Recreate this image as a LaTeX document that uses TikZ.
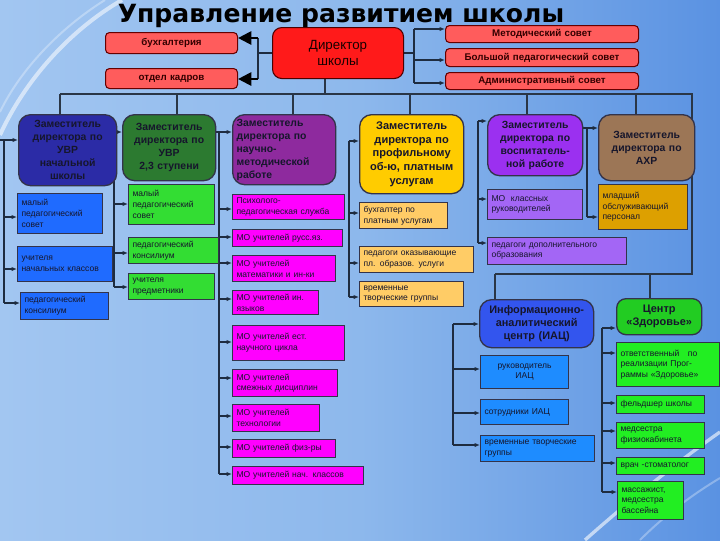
\documentclass[tikz,border=0pt]{standalone}
\usepackage{fontspec}
\setmainfont{Liberation Sans}
\newfontfamily\titlefont{DejaVu Sans}
\usetikzlibrary{arrows.meta}
\pgfdeclarelayer{bg}
\pgfsetlayers{bg,main}
\definecolor{bgL}{HTML}{A2C6F1}
\definecolor{bgR}{HTML}{5A92E2}
\definecolor{bgM}{HTML}{8DB8EC}
\definecolor{lnc}{HTML}{1E2C40}
\definecolor{busc}{HTML}{2A3646}
\definecolor{bord}{HTML}{33334A}
\definecolor{txt}{HTML}{16162C}
\definecolor{cdir}{HTML}{FF1A1A}
\definecolor{cred}{HTML}{FF5C5C}
\definecolor{cdA}{HTML}{2B2BA6}
\definecolor{cdB}{HTML}{2C7A30}
\definecolor{cdC}{HTML}{8E2A9E}
\definecolor{cdD}{HTML}{FFCC00}
\definecolor{cdE}{HTML}{9B30F0}
\definecolor{cdF}{HTML}{9C7656}
\definecolor{ciA}{HTML}{1F6BFF}
\definecolor{ciB}{HTML}{33DD33}
\definecolor{ciC}{HTML}{FF00FF}
\definecolor{ciD}{HTML}{FFCC66}
\definecolor{ciE}{HTML}{A366F5}
\definecolor{ciF}{HTML}{DDA000}
\definecolor{ciac}{HTML}{3355EE}
\definecolor{ciI}{HTML}{1E8CFF}
\definecolor{ccz}{HTML}{22CC22}
\definecolor{ciZ}{HTML}{22EE22}
\newcommand\bx[7]{\node[#1, anchor=north west, text width={(#5-#3)*0.75pt-6pt}, minimum height={(#6-#4)*0.75pt}] (#2) at (#3,#4) {#7};}
\newcommand\br[3]{\draw[arr] (#1 |- 0,#2) -- (#3.west |- 0,#2);}
\newcommand\drop[2]{\draw[bus] (#1,94) -- (#2.north -| #1,0);}
\begin{document}
\begin{tikzpicture}[x=0.75pt,y=-0.75pt,
  conn/.style={draw=lnc, line width=0.9pt},
  arr/.style={conn, -{Latex[length=4pt,width=3.2pt]}},
  thickconn/.style={draw=lnc, line width=1.6pt},
  bigarr/.style={thickconn, -{Triangle[length=10pt,width=10pt]}},
  bus/.style={draw=busc, line width=2.2pt},
  anybox/.style={draw=bord, line width=0.8pt, inner xsep=3pt, inner ysep=1pt, text=txt},
  dirst/.style={anybox, fill=cdir, draw=black!70!red, rounded corners=7pt, align=center, font=\fontsize{10}{12}\selectfont, text=black!90!red},
  redst/.style={anybox, fill=cred, draw=black!60!red, rounded corners=3pt, align=center, font=\bfseries\fontsize{7.3}{9}\selectfont, text=black!80!red},
  deputy/.style={anybox, line width=1pt, rounded corners=9pt, align=center, font=\bfseries\fontsize{7.8}{9.8}\selectfont},
  item/.style={anybox, align=left, font=\fontsize{6.4}{8}\selectfont}
]
\useasboundingbox (0,0) rectangle (720,540);
\begin{pgfonlayer}{bg}
\shade[left color=bgL, right color=bgR, middle color=bgM] (0,0) rectangle (720,540);
\draw[white, opacity=0.55, line width=3pt] (122,0) .. controls (70,30) and (25,80) .. (0,135);
\draw[white, opacity=0.3, line width=1.5pt] (105,0) .. controls (60,28) and (20,70) .. (0,112);
\draw[white, opacity=0.6, line width=2.5pt] (585,540) .. controls (630,500) and (680,460) .. (720,432);
\draw[white, opacity=0.3, line width=1.5pt] (640,540) .. controls (670,510) and (700,490) .. (720,478);
\end{pgfonlayer}

\node[font=\titlefont\bfseries\fontsize{18.8}{22}\selectfont, text=black, anchor=base] (title) at (341,22) {Управление развитием школы};

% director and side boxes
\bx{dirst}{dir}{272}{27}{403}{78}{Директор\\школы}
\bx{redst}{buh}{105}{32}{237}{53}{бухгалтерия}
\bx{redst}{kadr}{105}{68}{237}{88}{отдел кадров}
\bx{redst}{met}{445}{25}{638}{42}{Методический совет}
\bx{redst}{bps}{445}{48}{638}{66}{Большой педагогический совет}
\bx{redst}{adm}{445}{72}{638}{89}{Административный совет}

% deputies
\bx{deputy, fill=cdA}{d1}{18}{114}{116}{185}{Заместитель\\директора по\\УВР\\начальной\\школы}
\bx{deputy, fill=cdB}{d2}{122}{114}{215}{180}{Заместитель\\директора по\\УВР\\2,3 ступени}
\bx{deputy, fill=cdC, align=left}{d3}{232}{114}{335}{184}{Заместитель\\директора по\\научно-\\методической\\работе}
\bx{deputy, fill=cdD, font=\bfseries\fontsize{8.3}{10.2}\selectfont}{d4}{359}{114}{463}{193}{Заместитель\\директора по\\профильному\\об-ю, платным\\услугам}
\bx{deputy, fill=cdE}{d5}{487}{114}{582}{175}{Заместитель\\директора по\\воспитатель-\\ной работе}
\bx{deputy, fill=cdF}{d6}{598}{114}{694}{180}{Заместитель\\директора по\\АХР\\[6pt]}

% column 1
\bx{item, fill=ciA}{a1}{17}{193}{102}{233}{малый\\педагогический\\совет}
\bx{item, fill=ciA}{a2}{17}{246}{112}{281}{учителя\\начальных классов}
\bx{item, fill=ciA}{a3}{20}{292}{108}{319}{педагогический\\консилиум}
% column 2
\bx{item, fill=ciB}{b1}{128}{184}{214}{224}{малый\\педагогический\\совет}
\bx{item, fill=ciB}{b2}{128}{237}{218}{263}{педагогический\\консилиум}
\bx{item, fill=ciB}{b3}{128}{273}{214}{299}{учителя\\предметники}
% column 3
\bx{item, fill=ciC}{m1}{232}{194}{344}{219}{Психолого-\\педагогическая служба}
\bx{item, fill=ciC}{m2}{232}{229}{342}{246}{МО учителей русс.яз.}
\bx{item, fill=ciC}{m3}{232}{255}{335}{281}{МО учителей\\математики и ин-ки}
\bx{item, fill=ciC}{m4}{232}{290}{318}{314}{МО учителей ин.\\языков}
\bx{item, fill=ciC}{m5}{232}{325}{344}{360}{МО учителей ест.\\научного цикла\\[3pt]}
\bx{item, fill=ciC}{m6}{232}{369}{337}{396}{МО учителей\\смежных дисциплин}
\bx{item, fill=ciC}{m7}{232}{404}{319}{431}{МО учителей\\технологии}
\bx{item, fill=ciC}{m8}{232}{439}{335}{457}{МО учителей физ-ры}
\bx{item, fill=ciC}{m9}{232}{466}{363}{484}{МО учителей нач. классов}
% column 4
\bx{item, fill=ciD}{o1}{359}{202}{447}{228}{бухгалтер по\\платным услугам}
\bx{item, fill=ciD}{o2}{359}{246}{473}{272}{педагоги оказывающие\\пл. образов. услуги}
\bx{item, fill=ciD}{o3}{359}{281}{463}{306}{временные\\творческие группы}
% column 5
\bx{item, fill=ciE}{v1}{487}{189}{582}{219}{МО\ \ классных\\руководителей}
\bx{item, fill=ciE}{v2}{487}{237}{626}{264}{педагоги дополнительного\\образования}
% column 6
\bx{item, fill=ciF}{g1}{598}{184}{687}{229}{младший\\обслуживающий\\персонал}
% IAC
\bx{deputy, fill=ciac, font=\bfseries\fontsize{8.2}{10}\selectfont}{iac}{479}{299}{593}{347}{Информационно-\\аналитический\\центр (ИАЦ)}
\bx{item, fill=ciI, align=center}{i1}{480}{355}{568}{388}{руководитель\\ИАЦ}
\bx{item, fill=ciI}{i2}{480}{399}{568}{424}{сотрудники ИАЦ\\[4pt]}
\bx{item, fill=ciI}{i3}{480}{435}{594}{461}{временные творческие\\группы}
% Health centre
\bx{deputy, fill=ccz, rounded corners=7pt, font=\bfseries\fontsize{8.2}{10}\selectfont}{cz}{616}{298}{701}{334}{Центр\\«Здоровье»}
\bx{item, fill=ciZ}{z1}{616}{342}{719}{386}{ответственный\ \ \ по\\реализации Прог-\\раммы «Здоровье»}
\bx{item, fill=ciZ}{z2}{616}{395}{704}{413}{фельдшер школы}
\bx{item, fill=ciZ}{z3}{616}{422}{704}{448}{медсестра\\физиокабинета}
\bx{item, fill=ciZ}{z4}{616}{457}{704}{474}{врач -стоматолог}
\bx{item, fill=ciZ}{z5}{617}{481}{683}{519}{массажист,\\медсестра\\бассейна}

\begin{pgfonlayer}{bg}
% director side links
\coordinate (JL) at (258,53); \coordinate (JLt) at (258,38); \coordinate (JLb) at (258,79);
\draw[thickconn] (dir.west |- JL) -- (JL);
\draw[thickconn] (JLt) -- (JLb);
\draw[bigarr, draw=black] (JLt) -- (buh.east |- JLt);
\draw[bigarr, draw=black] (JLb) -- (kadr.east |- JLb);
\coordinate (JR) at (414,53); \coordinate (JRt) at (414,29); \coordinate (JRb) at (414,83);
\draw[thickconn] (dir.east |- JR) -- (JR);
\draw[conn, line width=1.2pt] (JRt) -- (JRb);
\draw[arr] (JRt) -- (met.west |- JRt);
\draw[arr] (JR |- 0,60) -- (bps.west |- 0,60);
\draw[arr] (JRb) -- (adm.west |- JRb);
% bus
\coordinate (B0) at (325,94);
\draw[bus] (dir.south -| B0) -- (B0);
\coordinate (BL) at (60,94); \coordinate (BR) at (692,94); \coordinate (BRb) at (692,274); \coordinate (BI) at (495,274);
\draw[bus] (BL) -- (BR) -- (BRb) -- (BI);
\drop{60}{d1} \drop{177}{d2} \drop{293}{d3} \drop{410}{d4} \drop{527}{d5} \drop{636}{d6}
\draw[bus] (BI) -- (iac.north -| BI);
\draw[bus] (650,274) -- (cz.north -| 650,0);
% column 1
\coordinate (T1a) at (4,140); \coordinate (T1b) at (4,303);
\draw[conn] (0,140) -- (T1a) -- (T1b);
\br{T1a}{140}{d1} \br{T1a}{217}{a1} \br{T1a}{269}{a2} \br{T1a}{303}{a3}
% column 2
\coordinate (T2a) at (114,132); \coordinate (T2b) at (114,287);
\draw[conn] (d1.east |- T2a) -- (T2a) -- (T2b);
\br{T2a}{132}{d2} \br{T2a}{204}{b1} \br{T2a}{253}{b2} \br{T2a}{287}{b3}
% column 3
\coordinate (T3a) at (219,132); \coordinate (T3b) at (219,474);
\draw[conn] (d2.east |- T3a) -- (T3a) -- (T3b);
\br{T3a}{132}{d3} \br{T3a}{209}{m1} \br{T3a}{237}{m2} \br{T3a}{263}{m3}
\br{T3a}{299}{m4} \br{T3a}{342}{m5} \br{T3a}{378}{m6} \br{T3a}{416}{m7}
\br{T3a}{447}{m8} \br{T3a}{474}{m9}
% column 4
\coordinate (T4a) at (349,141); \coordinate (T4b) at (349,297);
\draw[conn] (T4a) -- (T4b);
\br{T4a}{141}{d4} \br{T4a}{213}{o1} \br{T4a}{263}{o2} \br{T4a}{297}{o3}
% column 5
\coordinate (T5a) at (478,121); \coordinate (T5b) at (478,243);
\draw[conn] (T5a) -- (T5b);
\br{T5a}{121}{d5} \br{T5a}{199}{v1} \br{T5a}{243}{v2}
% column 6
\coordinate (T6a) at (587,128); \coordinate (T6b) at (587,217);
\draw[conn] (d5.east |- T6a) -- (T6a) -- (T6b);
\br{T6a}{128}{d6} \br{T6a}{217}{g1}
% IAC
\coordinate (T7a) at (453,324); \coordinate (T7b) at (453,445);
\draw[conn] (T7a) -- (T7b);
\br{T7a}{324}{iac} \br{T7a}{369}{i1} \br{T7a}{413}{i2} \br{T7a}{445}{i3}
% Health
\coordinate (T8a) at (602,328); \coordinate (T8b) at (602,492);
\draw[conn] (T8a) -- (T8b);
\br{T8a}{328}{cz} \br{T8a}{353}{z1} \br{T8a}{403}{z2} \br{T8a}{431}{z3}
\br{T8a}{463}{z4} \br{T8a}{492}{z5}
\end{pgfonlayer}
\end{tikzpicture}
\end{document}
